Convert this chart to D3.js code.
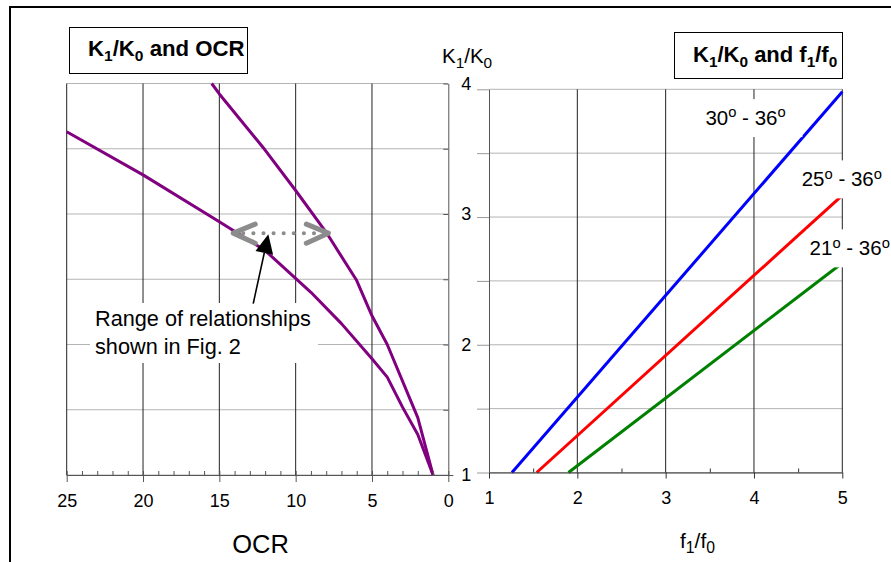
<!DOCTYPE html>
<html><head><meta charset="utf-8">
<script src="https://cdn.jsdelivr.net/npm/d3@7"></script>
<style>body{margin:0;background:#fff}svg{display:block}text{font-family:"Liberation Sans",Arial,Helvetica,sans-serif;fill:#000}</style>
</head><body>
<svg id="c" width="891" height="562"></svg>
<script>
// ---- data ----
const ocrTicks = [25, 20, 15, 10, 5, 0];
const ocrMinor = d3.range(0, 26, 1);
const kTicks = [1, 2, 3, 4];
const kGrid = [1, 1.5, 2, 2.5, 3, 3.5, 4];
const fTicks = [1, 2, 3, 4, 5];
const fMinor = [1.5, 2.5, 3.5, 4.5];

const upperOCR = [15.5, 15, 12, 10, 8, 6, 5, 4, 2, 1];
const upperK   = [4.0, 3.92, 3.49, 3.18, 2.86, 2.49, 2.22, 2.0, 1.44, 1.0];
const lowerOCR = [25, 20, 15, 12, 9, 7, 5, 4, 3, 2, 1];
const lowerK   = [3.63, 3.30, 2.94, 2.72, 2.40, 2.16, 1.89, 1.75, 1.52, 1.31, 1.0];

const f30 = [1.26, 5], k30 = [1, 3.98];
const f25 = [1.54, 5], k25 = [1, 3.17];
const f21 = [1.90, 5], k21 = [1, 2.64];
const phiLabels = ["30", "25", "21"];

// ---- setup ----
const svg = d3.select("#c");
const FONT = '"Liberation Sans",Arial,sans-serif';
const xL = d3.scaleLinear().domain([25, 0]).range([66.7, 448.3]);
const yL = d3.scaleLinear().domain([1, 4]).range([475, 83.5]);
const xR = d3.scaleLinear().domain([1, 5]).range([489, 842.3]);
const yR = d3.scaleLinear().domain([1, 4]).range([472.5, 89.3]);
const fmt = d3.format("d");

function rich(t, parts, size, subScale) {
  let cur = 0;
  const ss = subScale || 0.7;
  parts.forEach(p => {
    const fs = p[1] === 'n' ? size : size * ss;
    const shift = p[1] === 'sub' ? size * 0.22 : p[1] === 'sup' ? -size * 0.38 : 0;
    t.append("tspan").attr("font-size", fs).attr("dy", shift - cur).text(p[0]);
    cur = shift;
  });
  return t;
}

// frame
svg.append("path").attr("d", "M10,562 V7 H891").attr("fill", "none").attr("stroke", "#000").attr("stroke-width", 2);

// ---- left panel ----
const gL = svg.append("g");
gL.selectAll(".hgl").data(kGrid).join("line")
  .attr("x1", xL(25)).attr("x2", xL(0)).attr("y1", d => yL(d)).attr("y2", d => yL(d))
  .attr("stroke", "#b4b4b4").attr("stroke-width", 1);
gL.selectAll(".vgl").data(ocrTicks.filter(d => d > 0)).join("line")
  .attr("x1", d => xL(d)).attr("x2", d => xL(d)).attr("y1", yL(4)).attr("y2", yL(1))
  .attr("stroke", "#222").attr("stroke-width", 1);

// right panel grid
const gR = svg.append("g");
gR.selectAll(".hgr").data(kGrid).join("line")
  .attr("x1", xR(1)).attr("x2", xR(5)).attr("y1", d => yR(d)).attr("y2", d => yR(d))
  .attr("stroke", "#b4b4b4").attr("stroke-width", 1);
gR.selectAll(".vgr").data(fTicks.filter(d => d > 1)).join("line")
  .attr("x1", d => xR(d)).attr("x2", d => xR(d)).attr("y1", yR(4)).attr("y2", yR(1))
  .attr("stroke", "#222").attr("stroke-width", 1);

// annotation text box (white background)
gL.append("rect").attr("x", 90).attr("y", 303).attr("width", 228).attr("height", 60).attr("fill", "#fff");

// curves
const lineL = d3.line().x(d => xL(d[0])).y(d => yL(d[1]));
[[upperOCR, upperK], [lowerOCR, lowerK]].forEach(([o, k]) => {
  gL.append("path").datum(o.map((v, i) => [v, k[i]])).attr("d", lineL)
    .attr("fill", "none").attr("stroke", "#800080").attr("stroke-width", 3).attr("stroke-linejoin", "round");
});

// left axes
const axLx = d3.axisBottom(xL).tickValues(ocrTicks).tickFormat(fmt).tickSize(7).tickSizeOuter(0).tickPadding(12);
const gax = gL.append("g").attr("transform", "translate(0,475)").call(axLx);
gax.attr("font-size", 18).attr("font-family", FONT);
gax.select(".domain").attr("d", `M${xL(25)},0.5H${xL(0) + 5}`).attr("stroke", "#555");
gax.selectAll(".tick line").attr("stroke", "#555");
const gaxm = gL.append("g").attr("transform", "translate(0,475)")
  .call(d3.axisBottom(xL).tickValues(ocrMinor).tickSize(-4).tickFormat(""));
gaxm.select(".domain").remove();
gaxm.selectAll(".tick line").attr("stroke", "#555");

const gay = gL.append("g").attr("transform", `translate(${xL(0)},0)`)
  .call(d3.axisLeft(yL).tickValues(kGrid).tickSize(5).tickSizeOuter(0).tickFormat(""));
gay.select(".domain").attr("stroke", "#555");
gay.selectAll(".tick line").attr("stroke", "#555");
const gayl = gL.append("g").attr("transform", `translate(${xL(0)},0)`)
  .call(d3.axisRight(yL).tickValues(kTicks).tickFormat(fmt).tickSize(0).tickPadding(13));
gayl.attr("font-size", 18).attr("font-family", FONT);
gayl.select(".domain").remove();

rich(svg.append("text").attr("x", 442).attr("y", 63), [["K", 'n'], ["1", 'sub'], ["/K", 'n'], ["0", 'sub']], 20.5, 0.75);
svg.append("text").attr("x", xL(12.3)).attr("y", 553).attr("text-anchor", "middle").attr("font-size", 25.5).text("OCR");

// left title
svg.append("rect").attr("x", 69.5).attr("y", 27.5).attr("width", 178).attr("height", 46).attr("fill", "#fff").attr("stroke", "#000");
rich(svg.append("text").attr("x", 88).attr("y", 56).attr("font-weight", "bold"),
  [["K", 'n'], ["1", 'sub'], ["/K", 'n'], ["0", 'sub'], [" and OCR", 'n']], 22.2);

// annotation arrows
const grayY = 2.853;
const xa = xL(14.09), xb = xL(7.86), ya = yL(grayY);
gL.append("line").attr("x1", xa + 10).attr("x2", xb - 8).attr("y1", ya).attr("y2", ya)
  .attr("stroke", "#8c8c8c").attr("stroke-width", 4).attr("stroke-linecap", "round").attr("stroke-dasharray", "0.1 10");
gL.append("path").attr("d", `M${xa + 22},${ya - 9} L${xa},${ya} L${xa + 22},${ya + 10}`)
  .attr("fill", "none").attr("stroke", "#8c8c8c").attr("stroke-width", 5).attr("stroke-linejoin", "round").attr("stroke-linecap", "round");
gL.append("path").attr("d", `M${xb - 22},${ya - 9} L${xb},${ya} L${xb - 22},${ya + 10}`)
  .attr("fill", "none").attr("stroke", "#8c8c8c").attr("stroke-width", 5).attr("stroke-linejoin", "round").attr("stroke-linecap", "round");

const bx0 = xL(12.78), by0 = yL(2.313), bx1 = xL(11.79), by1 = yL(2.845);
const dx = bx1 - bx0, dy = by1 - by0, len = Math.hypot(dx, dy), ux = dx / len, uy = dy / len;
const hl = 19, hw = 9;
const baseX = bx1 - ux * hl, baseY = by1 - uy * hl;
gL.append("line").attr("x1", bx0).attr("y1", by0).attr("x2", baseX).attr("y2", baseY).attr("stroke", "#000").attr("stroke-width", 1.6);
gL.append("path").attr("d", `M${bx1},${by1} L${baseX - uy * hw},${baseY + ux * hw} L${baseX + uy * hw},${baseY - ux * hw} Z`).attr("fill", "#000");

svg.append("text").attr("x", 95).attr("y", 326).attr("font-size", 21.7).text("Range of relationships");
svg.append("text").attr("x", 95).attr("y", 354).attr("font-size", 21.7).text("shown in Fig. 2");

// ---- right panel lines ----
const lineR = d3.line().x(d => xR(d[0])).y(d => yR(d[1]));
[[f30, k30, "#0000ff"], [f25, k25, "#ff0000"], [f21, k21, "#008000"]].forEach(([f, k, c]) => {
  gR.append("path").datum(f.map((v, i) => [v, k[i]])).attr("d", lineR)
    .attr("fill", "none").attr("stroke", c).attr("stroke-width", 3);
});

// right axes
const gbx = gR.append("g").attr("transform", "translate(0,472.5)")
  .call(d3.axisBottom(xR).tickValues(fTicks).tickFormat(fmt).tickSize(6).tickSizeOuter(0).tickPadding(13));
gbx.attr("font-size", 18).attr("font-family", FONT);
gbx.select(".domain").attr("stroke", "#333");
gbx.selectAll(".tick line").attr("stroke", "#333");
const gbxm = gR.append("g").attr("transform", "translate(0,472.5)")
  .call(d3.axisBottom(xR).tickValues(fMinor).tickSize(-4).tickFormat(""));
gbxm.select(".domain").remove();
gbxm.selectAll(".tick line").attr("stroke", "#333");
const gby = gR.append("g").attr("transform", `translate(${xR(1)},0)`)
  .call(d3.axisLeft(yR).tickValues(kGrid).tickSize(12).tickSizeOuter(0).tickFormat(""));
gby.select(".domain").attr("stroke", "#555");
gby.selectAll(".tick line").attr("stroke", "#999");

rich(svg.append("text").attr("x", 680).attr("y", 548),
  [["f", 'n'], ["1", 'sub'], ["/f", 'n'], ["0", 'sub']], 21, 0.75);

// right series labels
const labPos = [[3.45, 3.72], [4.54, 3.24], [4.63, 2.70]];
phiLabels.forEach((p, i) => {
  const x = xR(labPos[i][0]), y = yR(labPos[i][1]);
  svg.append("rect").attr("x", x - 3).attr("y", y - 26).attr("width", 100).attr("height", 38).attr("fill", "#fff");
  rich(svg.append("text").attr("x", x).attr("y", y),
    [[p, 'n'], ["o", 'sup'], [" - 36", 'n'], ["o", 'sup']], 20.5, 0.72);
});

// right title
svg.append("rect").attr("x", 674.5).attr("y", 32.5).attr("width", 168).attr("height", 46).attr("fill", "#fff").attr("stroke", "#000");
rich(svg.append("text").attr("x", 693).attr("y", 62).attr("font-weight", "bold"),
  [["K", 'n'], ["1", 'sub'], ["/K", 'n'], ["0", 'sub'], [" and f", 'n'], ["1", 'sub'], ["/f", 'n'], ["0", 'sub']], 22);
</script>
</body></html>
